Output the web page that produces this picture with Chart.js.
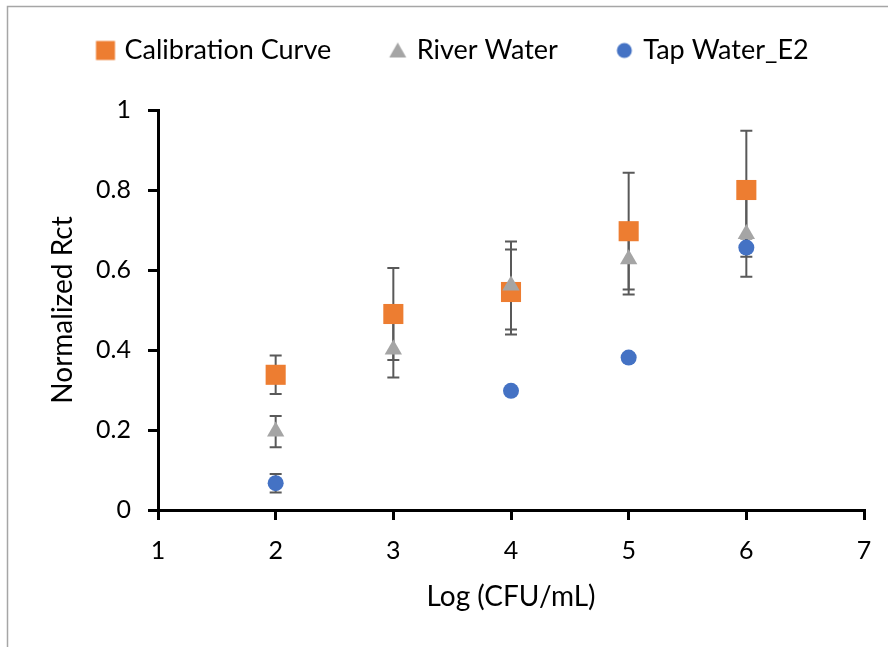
<!DOCTYPE html>
<html><head><meta charset="utf-8">
<script src="https://cdn.jsdelivr.net/npm/chart.js@4"></script>
<style>html,body{margin:0;padding:0;background:#fff}canvas{display:block}</style>
</head><body>
<canvas id="c" width="888" height="647"></canvas>
<script>
const seriesNames = ['Calibration Curve', 'River Water', 'Tap Water_E2'];
const calX = [2, 3, 4, 5, 6];
const calY = [0.338, 0.490, 0.545, 0.697, 0.800];
const calErr = [0.048, 0.115, 0.106, 0.146, 0.148];
const riverX = [2, 3, 4, 5, 6];
const riverY = [0.196, 0.401, 0.561, 0.627, 0.690];
const riverErr = [0.039, 0.070, 0.110, 0.088, 0.107];
const tapX = [2, 4, 5, 6];
const tapY = [0.067, 0.298, 0.381, 0.656];
const tapErr = [0.023, 0.010, 0.010, 0.023];
const xTicks = [1, 2, 3, 4, 5, 6, 7];
const yTicks = [0, 0.2, 0.4, 0.6, 0.8, 1];
const xTitle = 'Log (CFU/mL)';
const yTitle = 'Normalized Rct';

const COLORS = ['#ED7D31', '#A5A5A5', '#4472C4'];
const FONT = 'Lato';

function pts(xs, ys, es) { return xs.map((x, i) => ({x: x, y: ys[i], e: es[i]})); }

function markerCanvas(kind, color) {
  const c = document.createElement('canvas');
  c.width = 22; c.height = 22;
  const g = c.getContext('2d');
  g.fillStyle = color;
  if (kind === 'rect') g.fillRect(1.5, 1.5, 19, 19);
  else if (kind === 'triangle') { g.beginPath(); g.moveTo(11, 3); g.lineTo(19.5, 18); g.lineTo(2.5, 18); g.closePath(); g.fill(); }
  else { g.beginPath(); g.arc(11, 11, 7.5, 0, Math.PI * 2); g.fill(); }
  return c;
}
const legendMarks = [markerCanvas('rect', COLORS[0]), markerCanvas('triangle', COLORS[1]), markerCanvas('circle', COLORS[2])];

const errorBars = {
  id: 'errorBars',
  beforeDatasetsDraw(chart) {
    const ctx = chart.ctx, xs = chart.scales.x, ys = chart.scales.y;
    ctx.save();
    ctx.strokeStyle = '#595959';
    ctx.lineWidth = 2;
    chart.data.datasets.forEach(ds => {
      ds.data.forEach(p => {
        const px = xs.getPixelForValue(p.x);
        const top = ys.getPixelForValue(p.y + p.e);
        const bot = ys.getPixelForValue(p.y - p.e);
        ctx.beginPath();
        ctx.moveTo(px, top); ctx.lineTo(px, bot);
        ctx.moveTo(px - 6, top); ctx.lineTo(px + 6, top);
        ctx.moveTo(px - 6, bot); ctx.lineTo(px + 6, bot);
        ctx.stroke();
      });
    });
    ctx.restore();
  }
};

const LEGEND_PAD = 61;
const LEGEND_FONT = 27;
const frame = {
  id: 'frame',
  beforeInit(chart) {
    const lg = chart.legend;
    const origFit = lg.fit;
    lg.fit = function () {
      const mw = this.maxWidth;
      this.maxWidth = 3000;
      origFit.call(this);
      this.maxWidth = mw;
      this.width = mw;
      this.height = 82;
    };
  },
  afterLayout(chart) {
    const lg = chart.legend;
    lg.top = 37 - LEGEND_PAD;
    lg.left = 100 - LEGEND_PAD;
    lg.right = 3000;
  },
  afterDraw(chart) {
    const ctx = chart.ctx;
    ctx.save();
    ctx.strokeStyle = '#A6A6A6';
    ctx.lineWidth = 1.5;
    ctx.beginPath();
    ctx.moveTo(7.5, 647); ctx.lineTo(7.5, 6.5); ctx.lineTo(888, 6.5);
    ctx.stroke();
    ctx.restore();
  }
};

new Chart(document.getElementById('c'), {
  type: 'scatter',
  data: {
    datasets: [
      {label: seriesNames[0], data: pts(calX, calY, calErr), pointStyle: 'rect', pointRadius: 14.2, pointHoverRadius: 14.2,
       backgroundColor: COLORS[0], borderColor: COLORS[0], borderWidth: 0, order: 3},
      {label: seriesNames[1], data: pts(riverX, riverY, riverErr), pointStyle: 'triangle', pointRadius: 10, pointHoverRadius: 10,
       backgroundColor: COLORS[1], borderColor: COLORS[1], borderWidth: 0, order: 2},
      {label: seriesNames[2], data: pts(tapX, tapY, tapErr), pointStyle: 'circle', pointRadius: 8, pointHoverRadius: 8,
       backgroundColor: COLORS[2], borderColor: COLORS[2], borderWidth: 0, order: 1}
    ]
  },
  options: {
    responsive: false,
    animation: false,
    devicePixelRatio: 1,
    layout: {padding: {top: 28, right: 24, bottom: 0, left: 0}},
    plugins: {
      tooltip: {enabled: false},
      legend: {
        position: 'top',
        align: 'start',
        labels: {
          usePointStyle: true,
          pointStyleWidth: 11,
          padding: LEGEND_PAD,
          color: '#000',
          font: {family: FONT, size: LEGEND_FONT},
          generateLabels(chart) {
            return chart.data.datasets.map((ds, i) => ({
              text: ds.label, pointStyle: legendMarks[i], fillStyle: COLORS[i], strokeStyle: COLORS[i],
              lineWidth: 0, hidden: false, datasetIndex: i, fontColor: '#000'
            }));
          }
        }
      }
    },
    scales: {
      x: {
        type: 'linear', min: 1, max: 7,
        afterFit(s) { s.height = 137; },
        afterBuildTicks(s) { s.ticks = xTicks.map(v => ({value: v})); },
        border: {display: true, color: '#000', width: 3},
        grid: {display: true, drawOnChartArea: false, drawTicks: true, tickLength: 10, color: '#000', lineWidth: 3},
        ticks: {color: '#000', font: {family: FONT, size: 25}, padding: 16, maxRotation: 0, callback: v => String(v)},
        title: {display: true, text: xTitle, color: '#000', font: {family: FONT, size: 28}, padding: {top: 0, bottom: 33}}
      },
      y: {
        type: 'linear', min: 0, max: 1,
        afterFit(s) { s.width = 158; },
        afterBuildTicks(s) { s.ticks = yTicks.map(v => ({value: v})); },
        border: {display: true, color: '#000', width: 3},
        grid: {display: true, drawOnChartArea: false, drawTicks: true, tickLength: 10, color: '#000', lineWidth: 3},
        ticks: {color: '#000', font: {family: FONT, size: 25}, padding: 17, callback: v => String(v)},
        title: {display: true, text: yTitle, color: '#000', font: {family: FONT, size: 28}, padding: {top: 46, bottom: 0}}
      }
    }
  },
  plugins: [errorBars, frame]
});
</script>
</body></html>
